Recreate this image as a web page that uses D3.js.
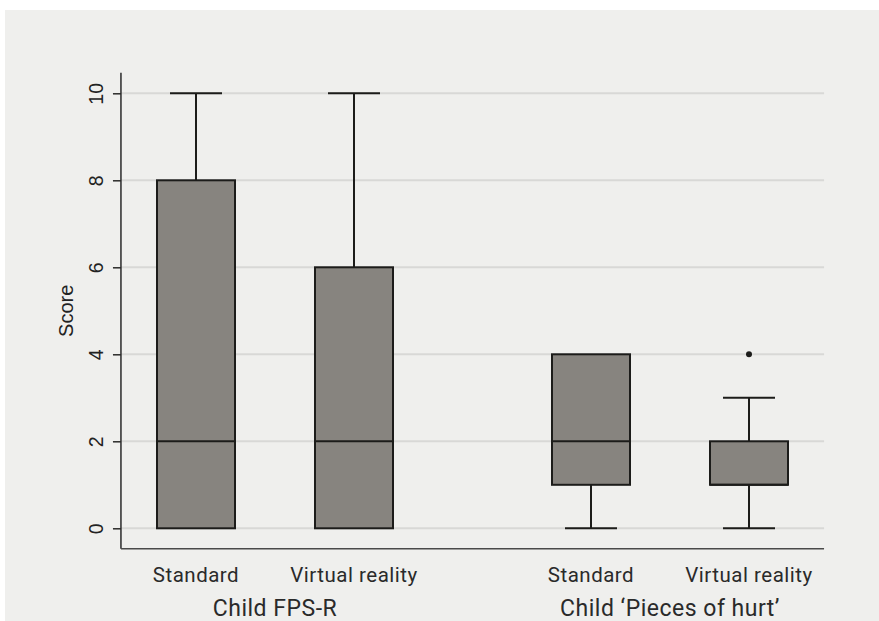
<!DOCTYPE html>
<html>
<head>
<meta charset="utf-8">
<script src="https://cdn.jsdelivr.net/npm/d3@7"></script>
<style>
  html, body { margin: 0; padding: 0; background: #ffffff; }
  svg { display: block; }
</style>
</head>
<body>
<svg id="chart" width="879" height="621"></svg>
<script>
// ---- data ----
const categories = ["Standard", "Virtual reality", "Standard", "Virtual reality"];
const groups = ["Child FPS-R", "Child \u2018Pieces of hurt\u2019"];
const groupOf = [0, 0, 1, 1];
const slotPos = [0, 1, 2.5, 3.5];
const whiskerLow = [0, 0, 0, 0];
const q1 = [0, 0, 1, 1];
const median = [2, 2, 2, 1];
const q3 = [8, 6, 4, 2];
const whiskerHigh = [10, 10, 4, 3];
const outliers = [[], [], [], [4]];
const yTicks = [0, 2, 4, 6, 8, 10];
const yLabel = "Score";

// ---- layout ----
const svg = d3.select("#chart");
const W = 879, H = 621;
svg.append("rect").attr("x", 5).attr("y", 10).attr("width", W - 5).attr("height", H - 10).attr("fill", "#efefed");

const y = d3.scaleLinear().domain([0, 10]).range([528.3, 93.3]);
const x = d3.scaleLinear().domain([0, 1]).range([196, 354]);
const xMin = -0.475, xMax = 3.975;
const yMin = -0.47, yMax = 10.47;
const boxW = 78, capW = 52;

const dark = "#1c1c1a";
const fill = "#87847f";
const grid = "#d8d8d6";

// gridlines
svg.append("g").selectAll("line").data(yTicks).join("line")
  .attr("x1", x(xMin)).attr("x2", x(xMax))
  .attr("y1", d => y(d)).attr("y2", d => y(d))
  .attr("stroke", grid).attr("stroke-width", 2);

// y axis
const yAxis = d3.axisLeft(y).tickValues(yTicks).tickSize(8).tickSizeOuter(0);
const gy = svg.append("g").attr("transform", `translate(${x(xMin)},0)`).call(yAxis);
gy.select(".domain").remove();
gy.append("line").attr("x1", 0).attr("x2", 0).attr("y1", y(yMax)).attr("y2", y(yMin))
  .attr("stroke", "#2a2a2a").attr("stroke-width", 1.5);
gy.selectAll(".tick line").attr("stroke", "#2a2a2a").attr("stroke-width", 1.5);
gy.selectAll(".tick text")
  .attr("font-family", "'Liberation Sans', Arial, sans-serif")
  .attr("font-size", 19.5).attr("fill", "#222")
  .attr("transform", "rotate(-90)")
  .attr("x", 0).attr("y", -17.5).attr("dy", 0)
  .attr("text-anchor", "middle");

// y label
svg.append("text")
  .attr("transform", `translate(73,${(y(yMax) + y(yMin)) / 2}) rotate(-90)`)
  .attr("text-anchor", "middle")
  .attr("font-family", "'Liberation Sans', Arial, sans-serif")
  .attr("font-size", 20).attr("fill", "#222")
  .text(yLabel);

// x axis line
svg.append("line").attr("x1", x(xMin)).attr("x2", x(xMax)).attr("y1", y(yMin)).attr("y2", y(yMin))
  .attr("stroke", "#4a4a4a").attr("stroke-width", 1.5);

// boxes
const idx = d3.range(categories.length);
const gb = svg.append("g");
idx.forEach(i => {
  const cx = x(slotPos[i]);
  if (whiskerHigh[i] > q3[i]) {
    gb.append("line").attr("x1", cx).attr("x2", cx).attr("y1", y(q3[i])).attr("y2", y(whiskerHigh[i]))
      .attr("stroke", dark).attr("stroke-width", 2);
    gb.append("line").attr("x1", cx - capW / 2).attr("x2", cx + capW / 2).attr("y1", y(whiskerHigh[i])).attr("y2", y(whiskerHigh[i]))
      .attr("stroke", dark).attr("stroke-width", 2);
  }
  if (whiskerLow[i] < q1[i]) {
    gb.append("line").attr("x1", cx).attr("x2", cx).attr("y1", y(q1[i])).attr("y2", y(whiskerLow[i]))
      .attr("stroke", dark).attr("stroke-width", 2);
    gb.append("line").attr("x1", cx - capW / 2).attr("x2", cx + capW / 2).attr("y1", y(whiskerLow[i])).attr("y2", y(whiskerLow[i]))
      .attr("stroke", dark).attr("stroke-width", 2);
  }
  gb.append("rect").attr("x", cx - boxW / 2).attr("width", boxW)
    .attr("y", y(q3[i])).attr("height", y(q1[i]) - y(q3[i]))
    .attr("fill", fill).attr("stroke", dark).attr("stroke-width", 2);
  gb.append("line").attr("x1", cx - boxW / 2).attr("x2", cx + boxW / 2).attr("y1", y(median[i])).attr("y2", y(median[i]))
    .attr("stroke", dark).attr("stroke-width", 2);
  outliers[i].forEach(v => {
    gb.append("circle").attr("cx", cx).attr("cy", y(v)).attr("r", 3).attr("fill", dark);
  });
});

// category labels
const labFont = "Roboto, 'Noto Sans', sans-serif";
svg.append("g").selectAll("text").data(idx).join("text")
  .attr("x", i => x(slotPos[i])).attr("y", 582)
  .attr("text-anchor", "middle")
  .attr("font-family", labFont).attr("font-size", 20.5).attr("fill", "#2a2a2a")
  .attr("letter-spacing", 0.5)
  .text(i => categories[i]);

// group labels
svg.append("g").selectAll("text").data(groups).join("text")
  .attr("x", (d, g) => {
    const members = idx.filter(i => groupOf[i] === g);
    return d3.mean(members, i => x(slotPos[i]));
  })
  .attr("y", 615.5)
  .attr("text-anchor", "middle")
  .attr("font-family", labFont).attr("font-size", 23).attr("fill", "#2a2a2a")
  .attr("letter-spacing", 0.5)
  .text(d => d);
</script>
</body>
</html>
